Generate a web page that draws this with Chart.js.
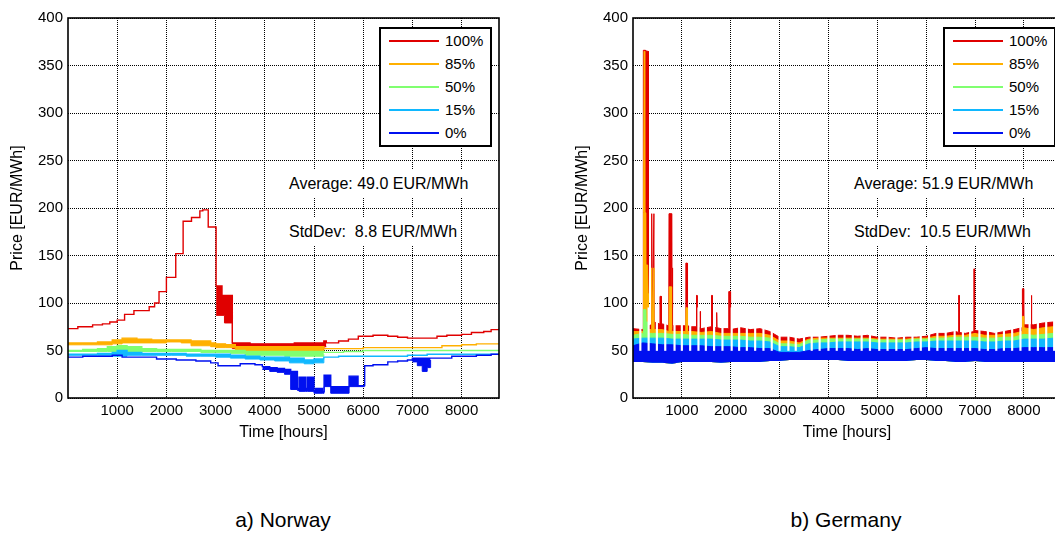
<!DOCTYPE html>
<html>
<head>
<meta charset="utf-8">
<script src="https://cdn.jsdelivr.net/npm/chart.js@4.4.0/dist/chart.umd.min.js"></script>
<style>
  body { margin: 0; width: 1055px; height: 533px; overflow: hidden; background: #fff; position: relative;
         font-family: "Liberation Sans", Arial, sans-serif; color: #000; }
  .panel { position: absolute; top: 0; }
  #panelNo { left: 0; }
  #panelDe { left: 565px; }
  .legend { position: absolute; top: 27px; width: 109px; height: 116px; border: 2px solid #000; background: #fff; }
  .legend .row { position: absolute; left: 0; width: 100%; height: 20px; }
  .legend .swatch { position: absolute; left: 8px; width: 50px; }
  .legend .txt { position: absolute; left: 64px; top: 1px; font-size: 15px; line-height: 18px; }
  .note { position: absolute; background: #fff; font-size: 16px; line-height: 24px; padding: 2px 3px; white-space: pre; }
  .caption { position: absolute; top: 507px; font-size: 21px; line-height: 26px; width: 300px; text-align: center; }
</style>
</head>
<body>
<div class="panel" id="panelNo"><canvas id="chartNo" width="500" height="442"></canvas></div>
<div class="panel" id="panelDe"><canvas id="chartDe" width="497" height="442"></canvas></div>

<div class="legend" id="legendNo" style="left:379px"></div>
<div class="legend" id="legendDe" style="left:943px"></div>

<div class="note" style="left:286px; top:170px">Average: 49.0 EUR/MWh</div>
<div class="note" style="left:286px; top:218px">StdDev:  8.8 EUR/MWh</div>
<div class="note" style="left:851px; top:170px">Average: 51.9 EUR/MWh</div>
<div class="note" style="left:851px; top:218px">StdDev:  10.5 EUR/MWh</div>

<div class="caption" style="left:133px">a) Norway</div>
<div class="caption" style="left:696px">b) Germany</div>

<script>
const seriesLabels = ['100%', '85%', '50%', '15%', '0%'];
const seriesColors = ['#e00000', '#ffb000', '#80ff70', '#10b8ff', '#0010f0'];
const legendWidths = [2, 2, 2, 2, 2];
const hourTicks = [1000, 2000, 3000, 4000, 5000, 6000, 7000, 8000];
const priceTicks = [0, 50, 100, 150, 200, 250, 300, 350, 400];

// Norway: weekly stepped price levels
const noRedHours = [0, 200, 500, 700, 850, 1000, 1150, 1340, 1650, 1760, 1850, 2000, 2190, 2340, 2510, 2680, 2740, 2850, 3010, 3130, 3340, 3700, 4000, 4300, 4600, 4900, 5200, 5250, 5500, 5700, 5900, 6200, 6500, 6700, 6900, 7300, 7500, 7700, 8000, 8200, 8450, 8600, 8760];
const noRedPrice = [73, 75, 77, 78, 80, 82, 88, 92, 96, 100, 112, 127, 152, 186, 190, 197, 198, 180, 118, 108, 58, 57, 57, 57, 58, 58, 60, 58, 60, 62, 65, 66, 65, 64, 63, 63, 65, 66, 67, 69, 70, 72, 73];
const noOrangeHours = [0, 300, 600, 900, 1100, 1400, 1700, 2000, 2300, 2500, 2700, 2900, 3000, 3200, 3400, 3700, 4000, 4300, 4600, 4900, 5200, 5500, 5800, 6000, 6300, 6600, 7000, 7300, 7600, 8000, 8300, 8760];
const noOrangePrice = [58, 58, 59, 61, 63, 62, 61, 61, 61, 60, 60, 58, 57, 56, 54, 54, 54, 54, 54, 54, 52, 52, 52, 53, 53, 53, 53, 53, 55, 56, 57, 57];
const noGreenHours = [0, 300, 600, 800, 1000, 1200, 1500, 1800, 2100, 2400, 2700, 3000, 3300, 3600, 4000, 4400, 4800, 5200, 5600, 6000, 6400, 6800, 7200, 7600, 8000, 8400, 8760];
const noGreenPrice = [50, 51, 52, 54, 55, 54, 52, 51, 51, 51, 50, 50, 50, 49, 49, 49, 49, 48, 49, 50, 50, 50, 50, 50, 50, 50, 50];
const noCyanHours = [0, 300, 600, 900, 1000, 1200, 1500, 1800, 2100, 2400, 2700, 3000, 3300, 3600, 3900, 4200, 4500, 4800, 5000, 5200, 5500, 5800, 6100, 6500, 6900, 7300, 7700, 8100, 8500, 8760];
const noCyanPrice = [46, 46, 47, 48, 50, 48, 47, 47, 47, 46, 46, 46, 45, 44, 43, 43, 42, 40, 41, 43, 44, 44, 44, 44, 45, 46, 46, 46, 46, 46];
const noBlueHours = [0, 300, 600, 900, 1100, 1700, 1800, 2200, 2600, 2900, 3050, 3350, 3500, 3800, 3950, 4100, 4250, 4400, 4526, 4663, 4697, 4832, 4866, 5000, 5035, 5171, 5205, 5340, 5713, 5895, 6030, 6200, 6500, 6700, 6900, 7000, 7370, 7500, 7800, 8000, 8300, 8600, 8760];
const noBluePrice = [43, 44, 44, 45, 43, 43, 41, 40, 39, 37, 34, 34, 36, 35, 33, 32, 31, 30, 28, 10, 22, 10, 22, 8, 10, 7, 24, 12, 23, 13, 34, 35, 38, 39, 40, 42, 42, 42, 44, 44, 45, 46, 45];

// Norway: lower edge of the hour-to-hour swings (filled up to the series above)
const noRedLowHours = [3010, 3180, 3340, 3700, 4000, 4300, 4600, 4900, 5200, 5250];
const noRedLowPrice = [87, 79, 52, 52, 52, 51, 51, 51, 54, 54];
const noOrangeLowHours = [0, 300, 600, 900, 1100, 1400, 1700, 2000, 2300, 2500, 2700, 2900, 3000, 3200, 3400, 3700, 4000, 4300, 4600, 4900, 5200];
const noOrangeLowPrice = [56, 56, 56, 57, 58, 58, 58, 59, 58, 55, 55, 54, 53, 53, 49, 49, 49, 49, 49, 49, 51];
const noGreenLowHours = [0, 300, 600, 800, 1000, 1200, 1500, 1800, 2100, 2400, 2700, 3000, 3300, 3600, 4000, 4400, 4800, 5200];
const noGreenLowPrice = [49, 49, 49, 49, 48, 49, 49, 49, 49, 49, 48, 48, 47, 45, 45, 44, 44, 46];
const noCyanLowHours = [0, 600, 900, 1200, 1500, 1800, 2100, 2400, 2700, 3000, 3300, 3600, 3900, 4200, 4500, 4800, 5000, 5200];
const noCyanLowPrice = [45, 45, 44, 45, 45, 45, 45, 44, 44, 43, 42, 41, 40, 39, 37, 36, 37, 40];
const noBlueLowHours = [3950, 4100, 4250, 4400, 4526, 4663, 4697, 4832, 4866, 5000, 5035, 5171, 5205, 5340, 5713, 5895, 6030];
const noBlueLowPrice = [30, 28, 27, 25, 9, 8, 7, 7, 7, 5, 5, 5, 12, 5, 12, 12, 12];
const noBlueLow2Hours = [7000, 7100, 7200, 7300, 7370];
const noBlueLow2Price = [38, 34, 28, 32, 40];

// Germany: upper edge of each series and the common lower edge
const deHours = [0, 200, 400, 600, 800, 1000, 1200, 1400, 1600, 1800, 2000, 2200, 2400, 2600, 2800, 3000, 3200, 3400, 3600, 3800, 4000, 4200, 4400, 4600, 4800, 5000, 5200, 5400, 5600, 5800, 6000, 6200, 6400, 6600, 6800, 7000, 7200, 7400, 7600, 7800, 8000, 8200, 8400, 8600, 8800];
const deRedTop = [73, 72, 77, 78, 75, 76, 75, 73, 75, 73, 72, 74, 72, 73, 70, 64, 64, 62, 64, 64, 65, 66, 66, 65, 66, 64, 64, 63, 64, 64, 65, 68, 68, 70, 68, 71, 70, 68, 70, 72, 77, 77, 79, 80, 80];
const deOrangeTop = [70, 70, 72, 72, 70, 70, 70, 69, 70, 68, 68, 68, 68, 68, 66, 60, 60, 58, 62, 63, 63, 63, 63, 63, 63, 62, 62, 62, 62, 63, 63, 65, 65, 66, 66, 68, 66, 66, 67, 68, 74, 72, 74, 75, 75];
const deGreenTop = [66, 68, 68, 68, 67, 67, 66, 66, 66, 65, 65, 65, 64, 64, 63, 57, 57, 56, 61, 61, 62, 62, 62, 62, 62, 61, 61, 61, 61, 62, 62, 63, 63, 64, 64, 64, 63, 63, 64, 64, 67, 66, 67, 68, 68];
const deCyanTop = [62, 63, 63, 63, 62, 62, 62, 62, 62, 61, 61, 61, 60, 60, 59, 54, 54, 53, 57, 58, 58, 59, 59, 59, 59, 58, 58, 58, 58, 59, 59, 60, 60, 60, 60, 60, 59, 59, 60, 60, 62, 62, 62, 63, 63];
const deBlueTop = [55, 58, 57, 56, 56, 55, 55, 55, 54, 54, 54, 53, 53, 52, 52, 48, 48, 48, 50, 51, 52, 52, 52, 51, 52, 51, 51, 51, 51, 52, 53, 52, 52, 52, 52, 52, 51, 51, 52, 52, 53, 53, 53, 53, 53];
const deFloor = [38, 38, 37, 37, 36, 38, 38, 38, 38, 37, 38, 38, 38, 38, 39, 39, 40, 40, 40, 40, 40, 40, 39, 39, 39, 39, 39, 39, 39, 40, 40, 39, 39, 38, 38, 39, 38, 38, 38, 38, 38, 38, 38, 38, 38];

// Germany: price spikes
const deRedPeakHours = [205, 212, 256, 260, 264, 310, 316, 378, 383, 428, 433, 548, 552, 578, 582, 732, 737, 788, 792, 808, 812, 1078, 1082, 1112, 1116, 1296, 1300, 1310, 1314, 1366, 1370, 1378, 1382, 1606, 1610, 1620, 1624, 1706, 1710, 1716, 1720, 1956, 1960, 1990, 1994, 6662, 6666, 6676, 6680, 6976, 6980, 6990, 6994, 7966, 7970, 7990, 7994, 8146, 8150, 8160, 8164];
const deRedPeakPrice = [73, 366, 366, 120, 365, 365, 76, 77, 194, 194, 80, 78, 107, 107, 78, 76, 194, 194, 137, 137, 76, 76, 142, 142, 76, 75, 108, 108, 75, 74, 91, 91, 74, 75, 108, 108, 75, 74, 90, 90, 74, 73, 112, 112, 73, 69, 108, 108, 69, 70, 136, 136, 71, 74, 115, 115, 77, 77, 108, 108, 77];
const deOrangePeakHours = [210, 215, 230, 238, 244, 256, 260, 300, 310, 316, 378, 383, 428, 433, 736, 740, 786, 790, 1080, 1085, 1108, 1112, 7966, 7972, 7990, 7994];
const deOrangePeakPrice = [70, 195, 365, 365, 195, 195, 140, 140, 110, 72, 72, 137, 137, 72, 70, 117, 117, 72, 70, 95, 95, 70, 70, 86, 86, 72];
const deGreenPeakHours = [205, 212, 256, 262, 300, 310];
const deGreenPeakPrice = [68, 93, 93, 80, 80, 68];

// Germany: weekly low-price hours, where every series drops back to the 0% level
const deDipHours = [150, 320, 489, 660, 850, 1000, 1170, 1340, 1491, 1660, 1831, 2020, 2172, 2330, 2500, 2670, 2840, 3000, 3181, 3331, 3500, 3658, 3820, 4000, 4170, 4330, 4500, 4680, 4850, 5040, 5210, 5390, 5546, 5720, 5890, 6060, 6230, 6400, 6583, 6753, 6900, 7090, 7264, 7435, 7592, 7760, 7930, 8117, 8287, 8457, 8620];
const deDipRange = [50, 95];

const pts = (hours, values) => hours.map((h, i) => ({ x: h, y: values[i] }));
const withPeaks = (hours, values, peakHours, peakValues) =>
  pts(hours, values).concat(pts(peakHours, peakValues)).sort((a, b) => a.x - b.x);

Chart.defaults.font.family = '"Liberation Sans", Arial, sans-serif';
Chart.defaults.color = '#000';

// box round the plot area, like the axes frame
const frame = {
  id: 'frame',
  afterDatasetsDraw(chart) {
    const { ctx, chartArea: a } = chart;
    ctx.save();
    ctx.strokeStyle = '#000';
    ctx.lineWidth = 1.6;
    ctx.strokeRect(a.left, a.top, a.right - a.left, a.bottom - a.top);
    ctx.restore();
  }
};

function lineSet(data, idx, extra) {
  return Object.assign({
    type: 'line',
    data: data,
    borderColor: seriesColors[idx],
    backgroundColor: seriesColors[idx],
    borderWidth: 1,
    pointRadius: 0,
    fill: false,
    order: 5 - idx
  }, extra || {});
}

function makeChart(canvasId, datasets) {
  return new Chart(document.getElementById(canvasId), {
    type: 'line',
    data: { datasets: datasets },
    options: {
      responsive: false,
      animation: false,
      events: [],
      layout: { padding: { top: 18, right: 1, left: 0, bottom: 0 } },
      plugins: { legend: { display: false }, tooltip: { enabled: false } },
      scales: {
        x: {
          type: 'linear', min: 0, max: 8760, offset: false,
          afterBuildTicks: s => { s.ticks = hourTicks.map(v => ({ value: v })); },
          afterFit: s => { s.height = 44; },
          grid: { color: '#000', lineWidth: 1, drawTicks: false, offset: false },
          border: { display: false, dash: [1, 1] },
          ticks: { padding: 4, font: { size: 15 }, color: '#000', maxRotation: 0, callback: v => String(v) },
          title: { display: true, text: 'Time [hours]', font: { size: 16 }, color: '#000', padding: { top: 0, bottom: 0 } }
        },
        y: {
          min: 0, max: 400, beginAtZero: true,
          afterBuildTicks: s => { s.ticks = priceTicks.map(v => ({ value: v })); },
          afterFit: s => { s.width = 68; },
          grid: { color: '#000', lineWidth: 1, drawTicks: false },
          border: { display: false, dash: [1, 1] },
          ticks: { padding: 5, font: { size: 15 }, color: '#000', callback: v => String(v) },
          title: { display: true, text: 'Price [EUR/MWh]', font: { size: 16 }, color: '#000', padding: { top: 8, bottom: 0 } }
        }
      }
    },
    plugins: [frame]
  });
}

// Norway: stepped lines, hour-to-hour swings filled between the two edges
const noStep = { stepped: true, borderWidth: 1.4 };
const noBand = target => ({ stepped: true, fill: { target: target } });
makeChart('chartNo', [
  lineSet(pts(noRedHours, noRedPrice), 0, noStep),
  lineSet(pts(noOrangeHours, noOrangePrice), 1, noStep),
  lineSet(pts(noGreenHours, noGreenPrice), 2, noStep),
  lineSet(pts(noCyanHours, noCyanPrice), 3, noStep),
  lineSet(pts(noBlueHours, noBluePrice), 4, noStep),
  lineSet(pts(noRedLowHours, noRedLowPrice), 0, noBand(0)),
  lineSet(pts(noOrangeLowHours, noOrangeLowPrice), 1, noBand(1)),
  lineSet(pts(noGreenLowHours, noGreenLowPrice), 2, noBand(2)),
  lineSet(pts(noCyanLowHours, noCyanLowPrice), 3, noBand(3)),
  lineSet(pts(noBlueLowHours, noBlueLowPrice), 4, noBand(4)),
  lineSet(pts(noBlueLow2Hours, noBlueLow2Price), 4, noBand(4))
]);

// Germany: each series filled down to the lowest prices, 0% drawn on top
makeChart('chartDe', [
  { type: 'line', data: pts(deHours, deFloor), borderWidth: 0, pointRadius: 0, fill: false, order: 0 },
  lineSet(withPeaks(deHours, deRedTop, deRedPeakHours, deRedPeakPrice), 0, { fill: { target: 0 } }),
  lineSet(withPeaks(deHours, deOrangeTop, deOrangePeakHours, deOrangePeakPrice), 1, { fill: { target: 0 } }),
  lineSet(withPeaks(deHours, deGreenTop, deGreenPeakHours, deGreenPeakPrice), 2, { fill: { target: 0 } }),
  lineSet(pts(deHours, deCyanTop), 3, { fill: { target: 0 } }),
  lineSet(pts(deHours, deBlueTop), 4, { fill: { target: 0 } }),
  {
    type: 'bar',
    data: deDipHours.map(h => ({ x: h, y: deDipRange })),
    backgroundColor: '#fff',
    borderWidth: 0,
    barThickness: 1.5,
    order: -1
  }
]);

// legends
['legendNo', 'legendDe'].forEach(id => {
  const box = document.getElementById(id);
  seriesLabels.forEach((label, i) => {
    const row = document.createElement('div');
    row.className = 'row';
    row.style.top = (2 + i * 23) + 'px';
    const sw = document.createElement('div');
    sw.className = 'swatch';
    sw.style.top = (10 - Math.floor(legendWidths[i] / 2)) + 'px';
    sw.style.height = legendWidths[i] + 'px';
    sw.style.background = seriesColors[i];
    const txt = document.createElement('div');
    txt.className = 'txt';
    txt.textContent = label;
    row.appendChild(sw);
    row.appendChild(txt);
    box.appendChild(row);
  });
});
</script>
</body>
</html>
